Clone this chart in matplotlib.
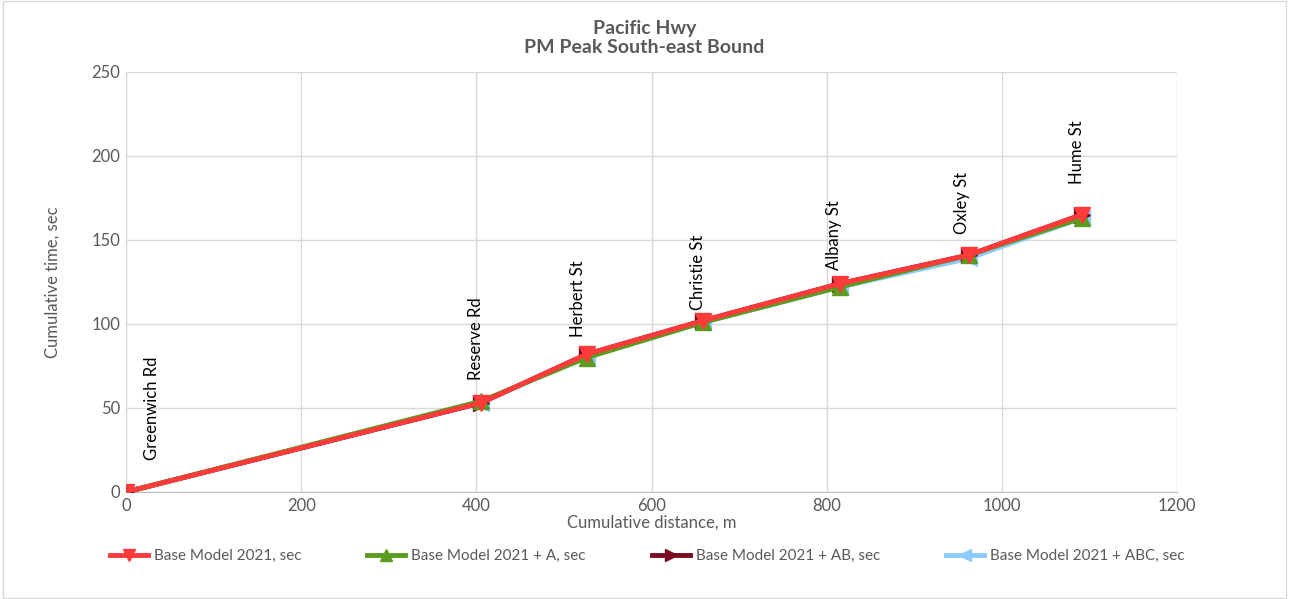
import numpy as np
import matplotlib.pyplot as plt

# cumulative distance along the route (m)
distance = [0, 405, 526, 659, 815, 962, 1091]
streets = ['Greenwich Rd', 'Reserve Rd', 'Herbert St', 'Christie St',
           'Albany St', 'Oxley St', 'Hume St']

base = [0, 53, 82, 102, 124, 141, 165]
base_a = [0, 54, 80, 101, 122, 141, 163]
base_ab = [0, 53, 82, 102, 124, 141, 165]
base_abc = [0, 53, 81, 101, 122, 139, 163]

plt.rcParams['font.family'] = ['Lato', 'DejaVu Sans']
grey = '#595959'

fig = plt.figure(figsize=(12.89, 5.99), dpi=100)
ax = fig.add_axes([126/1289, 1-492/599, (1177-126)/1289, (492-72)/599])

# draw order: light blue bottom, red on top
ax.plot(distance, base_abc, color='#8FCBFF', lw=3.5, marker='<', ms=11, label='Base Model 2021 + ABC, sec', zorder=3)
ax.plot(distance, base_ab, color='#7A0B24', lw=3.5, marker='>', ms=11, label='Base Model 2021 + AB, sec', zorder=4)
ax.plot(distance, base_a, color='#5B9B1F', lw=3.5, marker='^', ms=11, label='Base Model 2021 + A, sec', zorder=5)
ax.plot(distance, base, color='#FF3A3A', lw=3.5, marker='v', ms=11, label='Base Model 2021, sec', zorder=6)

# street name labels above the points (offset in pixels)
offs = [(26, 32), (-5, 23), (-9, 17), (-5, 11), (-6, 14), (-7, 21), (-5, 31)]
for x, y, s, o in zip(distance, base, streets, offs):
    ax.annotate(s, (x, y), xytext=o, textcoords='offset pixels', rotation=90,
                ha='center', va='bottom', fontsize=12, color='black')

ax.set_xlim(0, 1200)
ax.set_ylim(0, 250)
ax.set_xticks(np.arange(0, 1201, 200))
ax.set_yticks(np.arange(0, 251, 50))
ax.grid(True, color='#D9D9D9', lw=1)
ax.set_axisbelow(True)
ax.tick_params(length=0, colors=grey, labelsize=12, pad=4)
for side in ['top', 'right']:
    ax.spines[side].set_visible(False)
ax.spines['left'].set_color('#D9D9D9')
ax.spines['bottom'].set_color('#BFBFBF')

ax.set_xlabel('Cumulative distance, m', color=grey, fontsize=12, labelpad=1)
ax.set_ylabel('Cumulative time, sec', color=grey, fontsize=12, labelpad=22)

fig.text(0.5, 1-38/599, 'Pacific Hwy\nPM Peak South-east Bound', ha='center', va='center',
         fontsize=14, fontweight='bold', color=grey, linespacing=1.1)

h, l = ax.get_legend_handles_labels()
fig.legend(h[::-1], l[::-1], loc='center', bbox_to_anchor=(0.502, 1-556/599), ncol=4,
           frameon=False, fontsize=11, labelcolor=grey, columnspacing=4.3, handlelength=2.5,
           handletextpad=0.4, markerscale=0.8)

# chart border
fig.patches.append(plt.Rectangle((0.002, 0.002), 0.996, 0.996, transform=fig.transFigure,
                                 fill=False, edgecolor='#D9D9D9', lw=1))

fig.savefig('out.png', dpi=100)
